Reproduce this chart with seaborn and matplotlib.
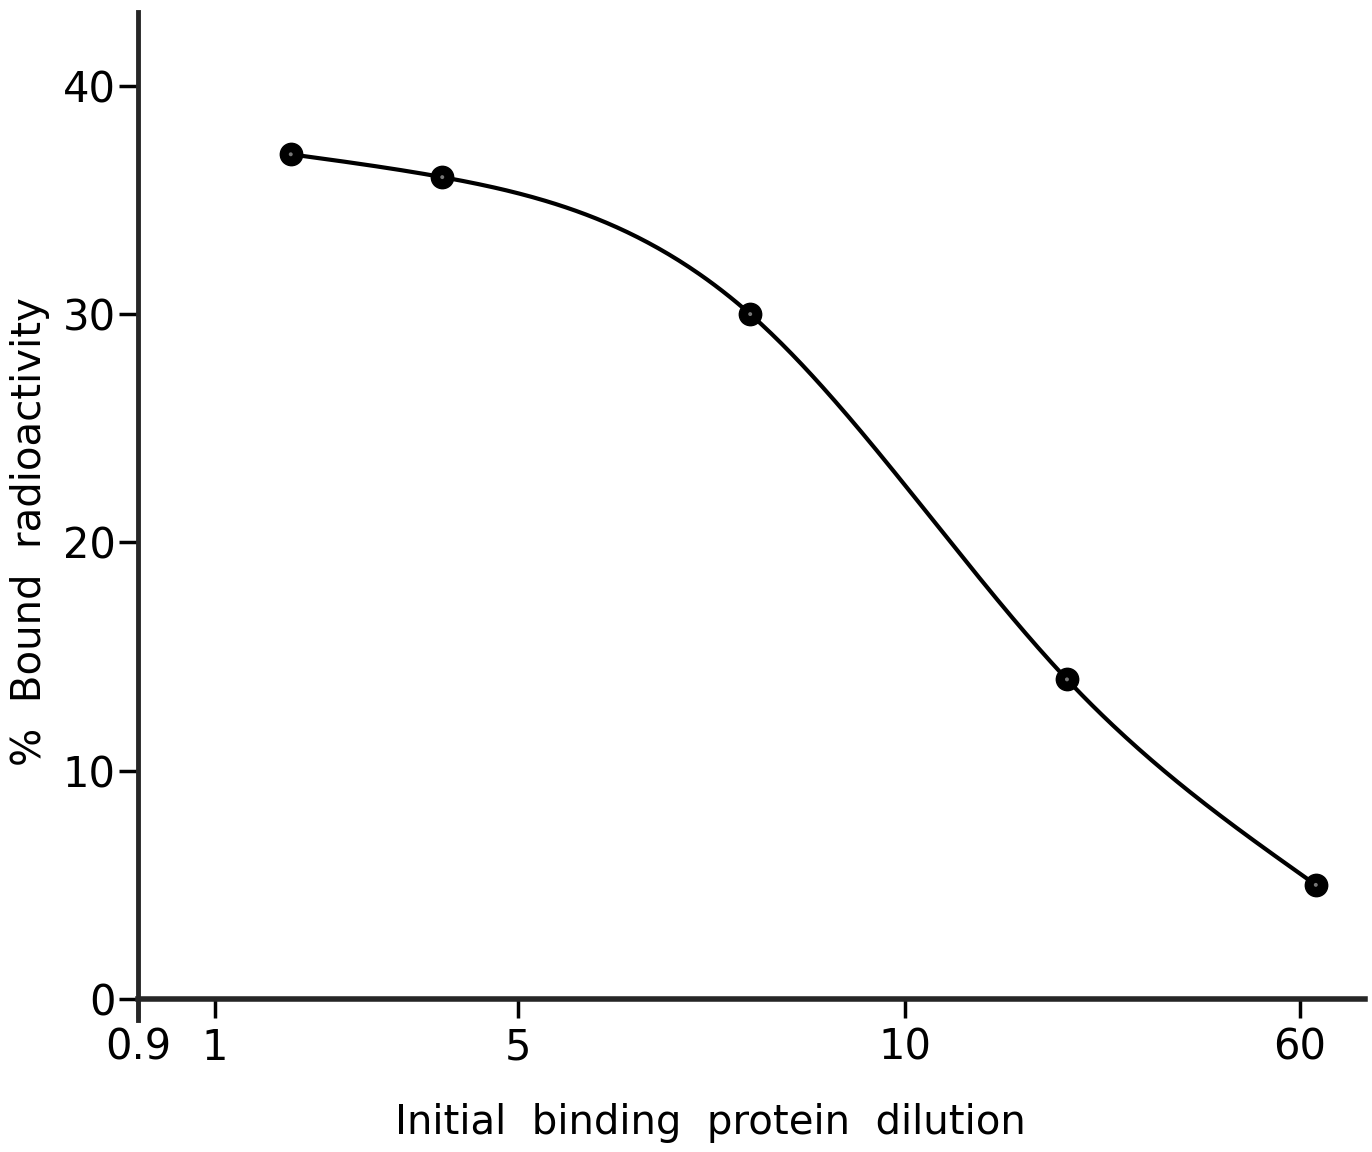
import numpy as np
import pandas as pd
import matplotlib
matplotlib.use("Agg")
import matplotlib.pyplot as plt
import seaborn as sns

# Dilution axis: hand-spaced tick positions (irregular scale)
tick_values = [0.9, 1, 5, 10, 60]
tick_labels = ["0.9", "1", "5", "10", "60"]
tick_positions = [138, 215, 518, 905, 1300]

# Measured points
dilution = [2.0, 4.0, 8.0, 30.5, 62.0]
bound_pct = [37.0, 36.0, 30.0, 14.0, 5.0]

# Scale anchors (extended slightly past the last tick)
anchor_vals = np.array(tick_values + [75.0])
anchor_pos = np.array(tick_positions + [1300 + 15 * 7.9])


def forward(v):
    return np.interp(v, anchor_vals, anchor_pos)


def inverse(p):
    return np.interp(p, anchor_pos, anchor_vals)


def natural_spline(x, y, xs):
    x = np.asarray(x, float)
    y = np.asarray(y, float)
    n = len(x)
    h = np.diff(x)
    A = np.zeros((n, n))
    b = np.zeros(n)
    A[0, 0] = A[-1, -1] = 1.0
    for i in range(1, n - 1):
        A[i, i - 1] = h[i - 1]
        A[i, i] = 2 * (h[i - 1] + h[i])
        A[i, i + 1] = h[i]
        b[i] = 6 * ((y[i + 1] - y[i]) / h[i] - (y[i] - y[i - 1]) / h[i - 1])
    M = np.linalg.solve(A, b)
    idx = np.clip(np.searchsorted(x, xs) - 1, 0, n - 2)
    x0, x1 = x[idx], x[idx + 1]
    hh = x1 - x0
    t0 = x1 - xs
    t1 = xs - x0
    return (M[idx] * t0 ** 3 / (6 * hh) + M[idx + 1] * t1 ** 3 / (6 * hh)
            + (y[idx] / hh - M[idx] * hh / 6) * t0
            + (y[idx + 1] / hh - M[idx + 1] * hh / 6) * t1)


sns.set_style("ticks")
plt.rcParams["font.family"] = ["DejaVu Sans"]
plt.rcParams["text.color"] = "black"
plt.rcParams["axes.labelcolor"] = "black"

fig = plt.figure(figsize=(13.72, 11.52), dpi=100)
ax = fig.add_axes([138 / 1372, 1 - 999 / 1152, (1365 - 138) / 1372, (999 - 12) / 1152])
ax.set_xscale("function", functions=(forward, inverse))

# Smooth curve through the points, built in scaled-axis space
pos = forward(np.array(dilution))
ps = np.linspace(pos[0], pos[-1], 400)
curve = pd.DataFrame({"dilution": inverse(ps), "bound": natural_spline(pos, bound_pct, ps)})
sns.lineplot(data=curve, x="dilution", y="bound", ax=ax, color="black", lw=3, sort=False)

pts = pd.DataFrame({"dilution": dilution, "bound": bound_pct})
sns.scatterplot(data=pts, x="dilution", y="bound", ax=ax, s=260, color="black",
                edgecolor="black", linewidth=1, zorder=5)
sns.scatterplot(data=pts, x="dilution", y="bound", ax=ax, s=8, color="#777777",
                edgecolor="none", zorder=6)

ax.set_xlim(0.9, inverse(1365))
ax.set_ylim(0, (999 - 12) / 22.83)

ax.set_xticks(tick_values)
ax.set_xticklabels(tick_labels)
ax.set_yticks([0, 10, 20, 30, 40])
ax.minorticks_off()

for s in ["top", "right"]:
    ax.spines[s].set_visible(False)
ax.spines["left"].set_linewidth(3.5)
ax.spines["bottom"].set_linewidth(4)
ax.spines["left"].set_bounds(-0.9, (999 - 12) / 22.83)

ax.tick_params(axis="both", direction="out", length=14, width=2.5, labelsize=30,
               colors="black", pad=6)
ax.tick_params(axis="y", pad=2)

ax.set_xlabel("Initial  binding  protein  dilution", fontsize=29, color="black")
ax.set_ylabel("%  Bound  radioactivity", fontsize=29, color="black")
ax.xaxis.set_label_coords((710 - 138) / 1227, -0.105)
ax.yaxis.set_label_coords(-0.072, (999 - 532) / 987)

fig.savefig("out.png", dpi=100, facecolor="white")
